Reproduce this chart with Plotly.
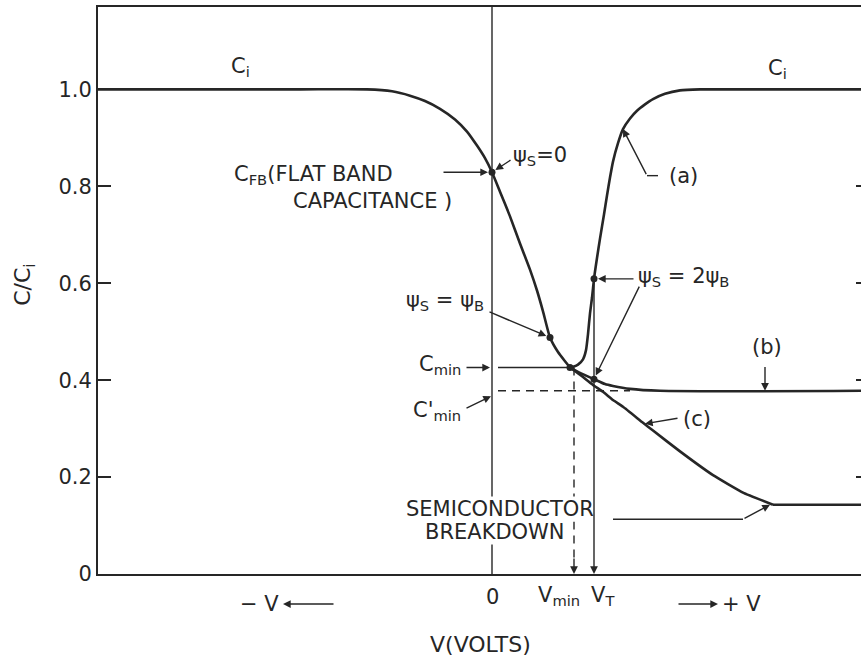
import plotly.graph_objects as go

# ---------------- data ----------------
# common curve (accumulation -> depletion), V in arbitrary volts, C/Ci
v_main = [-3.94, -1.92, -1.25, -1.00, -0.82, -0.67, -0.52, -0.37, -0.25, -0.15, -0.07,
          0.00, 0.08, 0.18, 0.28, 0.38, 0.45, 0.51, 0.58, 0.66, 0.73, 0.78]
c_main = [1.000, 1.000, 1.000, 0.996, 0.987, 0.976, 0.960, 0.938, 0.913, 0.884, 0.858,
          0.829, 0.789, 0.738, 0.682, 0.628, 0.585, 0.542, 0.488, 0.458, 0.439, 0.426]

# (a) low frequency
v_a = [0.78, 0.82, 0.86, 0.91, 0.94, 0.96, 0.98, 1.00, 1.02, 1.05, 1.08, 1.12, 1.15,
       1.18, 1.21, 1.26, 1.31, 1.38, 1.45, 1.53, 1.61, 1.73, 1.88, 2.08, 3.69]
c_a = [0.426, 0.428, 0.432, 0.443, 0.462, 0.495, 0.538, 0.570, 0.609, 0.652, 0.692,
       0.742, 0.781, 0.818, 0.851, 0.889, 0.918, 0.940, 0.956, 0.969, 0.980, 0.991,
       0.998, 1.000, 1.000]

# (b) high frequency
v_b = [0.78, 0.88, 1.02, 1.13, 1.21, 1.38, 1.68, 3.69]
c_b = [0.426, 0.415, 0.402, 0.392, 0.388, 0.382, 0.378, 0.378]

# (c) deep depletion, then flat after semiconductor breakdown
v_c = [0.78, 0.88, 1.01, 1.11, 1.21, 1.31, 1.51, 1.61, 1.88, 2.21, 2.51, 2.81]
c_c = [0.426, 0.411, 0.390, 0.376, 0.359, 0.345, 0.312, 0.296, 0.253, 0.204, 0.168, 0.143]
v_bd_flat = [2.81, 3.69]
c_bd_flat = [0.143, 0.143]

# characteristic points
V_FB, C_FB = 0.0, 0.829
V_B, C_B = 0.58, 0.488
V_T, C_2B_a, C_2B_b = 1.02, 0.609, 0.402
V_MIN, C_MIN = 0.82, 0.426
C_MIN_P = 0.378
V_BD, C_BD = 2.81, 0.143

y_tickvals = [0, 0.2, 0.4, 0.6, 0.8, 1.0]
y_ticktext = ["0", "0.2", "0.4", "0.6", "0.8", "1.0"]
mark_ticks = [0.2, 0.4, 0.6, 0.8]

# ---------------- styling ----------------
INK = "#262626"
FONT = "DejaVu Sans"
FS = 21
XR = [-3.94, 3.69]
YR = [0, 1.17]

fig = go.Figure()

curve = dict(color=INK, width=2.6)
fig.add_trace(go.Scatter(x=v_main, y=c_main, mode="lines", line=dict(**curve, shape="spline", smoothing=0.5)))
fig.add_trace(go.Scatter(x=v_a, y=c_a, mode="lines", line=dict(**curve, shape="spline", smoothing=0.5)))
fig.add_trace(go.Scatter(x=v_b, y=c_b, mode="lines", line=dict(**curve, shape="spline", smoothing=0.7), yaxis="y2"))
fig.add_trace(go.Scatter(x=v_c, y=c_c, mode="lines", line=dict(**curve, shape="spline", smoothing=0.4), yaxis="y3"))
fig.add_trace(go.Scatter(x=v_bd_flat, y=c_bd_flat, mode="lines", line=dict(**curve)))

# reference lines
fig.add_trace(go.Scatter(x=[0.06, V_MIN], y=[C_MIN, C_MIN], mode="lines", line=dict(color=INK, width=1.4)))
fig.add_trace(go.Scatter(x=[0.06, 1.38], y=[C_MIN_P, C_MIN_P], mode="lines",
                         line=dict(color=INK, width=1.4, dash="8px,6px")))
fig.add_trace(go.Scatter(x=[V_MIN, V_MIN], y=[C_MIN, 0.03], mode="lines",
                         line=dict(color=INK, width=1.4, dash="8px,6px")))
# breakdown leader (horizontal part)
fig.add_trace(go.Scatter(x=[1.21, 2.51], y=[0.113, 0.113], mode="lines", line=dict(color=INK, width=1.4)))
# (a) leader horizontal part
fig.add_trace(go.Scatter(x=[1.55, 1.66], y=[0.822, 0.822], mode="lines", line=dict(color=INK, width=1.4)))

# dots
fig.add_trace(go.Scatter(x=[V_FB, V_B, V_T, V_T, V_MIN - 0.04], y=[C_FB, C_B, C_2B_a, C_2B_b, C_MIN],
                         mode="markers", marker=dict(color=INK, size=7)))

fig.add_shape(type="line", xref="x", yref="paper", x0=0, x1=0, y0=0, y1=1,
              line=dict(color=INK, width=1.4), layer="below")


def arrow(x, y, ax, ay, standoff=0):
    return dict(x=x, y=y, ax=ax, ay=ay, xref="x", yref="y", axref="x", ayref="y", text="",
                showarrow=True, arrowhead=2, arrowsize=1.1, arrowwidth=1.4, arrowcolor=INK,
                standoff=standoff)


def label(text, x, y, xanchor="center", yanchor="middle", size=FS, bg=None, yref="y",
          xref="x", **kw):
    d = dict(text=text, x=x, y=y, xref=xref, yref=yref, xanchor=xanchor, yanchor=yanchor,
             showarrow=False, font=dict(family=FONT, size=size, color=INK), borderpad=0, **kw)
    if bg:
        d["bgcolor"] = bg
    return d


ann = [
    label("C<sub>i</sub>", -2.52, 1.047),
    label("C<sub>i</sub>", 2.85, 1.042),
    label("C<sub>FB</sub>(FLAT BAND", -2.59, 0.824, xanchor="left"),
    label("CAPACITANCE )", -2.00, 0.770, xanchor="left"),
    arrow(V_FB, C_FB, -0.50, C_FB, standoff=4),
    label("ψ<sub>S</sub>=0", 0.20, 0.862, xanchor="left"),
    arrow(V_FB, C_FB, 0.20, 0.856, standoff=4),
    label("ψ<sub>S</sub> = ψ<sub>B</sub>", -0.07, 0.563, xanchor="right"),
    arrow(V_B, C_B, -0.04, 0.542, standoff=4),
    label("C<sub>min</sub>", -0.30, 0.432, xanchor="right"),
    arrow(-0.02, C_MIN, -0.27, C_MIN),
    label("C'<sub>min</sub>", -0.30, 0.337, xanchor="right"),
    arrow(-0.01, 0.367, -0.27, 0.341),
    label("(a)", 1.91, 0.822),
    arrow(1.31, 0.918, 1.55, 0.822),
    label("ψ<sub>S</sub> = 2ψ<sub>B</sub>", 1.45, 0.613, xanchor="left"),
    arrow(V_T, C_2B_a, 1.43, C_2B_a, standoff=4),
    arrow(V_T, C_2B_b, 1.48, 0.596, standoff=4),
    label("(b)", 2.75, 0.469),
    arrow(2.73, C_MIN_P, 2.73, 0.430),
    label("(c)", 2.05, 0.320),
    arrow(1.53, 0.310, 1.87, 0.322),
    arrow(V_BD - 0.03, C_BD, 2.51, 0.113),
    label("SEMICONDUCTOR", 0.08, 0.134, bg="white"),
    label("BREAKDOWN", 0.03, 0.087, bg="white"),
    arrow(V_T, 0, V_T, C_2B_a),
    arrow(V_MIN, 0, V_MIN, 0.035),
    # x-axis texts
    label("0", 0.0, 0, yref="paper", yanchor="top", yshift=-10),
    label("V<sub>min</sub>", 0.67, 0, yref="paper", yanchor="top", yshift=-8),
    label("V<sub>T</sub>", 1.11, 0, yref="paper", yanchor="top", yshift=-8),
    label("− V", -2.33, -0.053, yref="paper"),
    dict(x=-2.09, y=-0.053, xref="x", yref="paper", ax=52, ay=0, text="", showarrow=True,
         arrowhead=2, arrowsize=1.1, arrowwidth=1.4, arrowcolor=INK),
    label("+ V", 2.49, -0.053, yref="paper"),
    dict(x=2.26, y=-0.053, xref="x", yref="paper", ax=-41, ay=0, text="", showarrow=True,
         arrowhead=2, arrowsize=1.1, arrowwidth=1.4, arrowcolor=INK),
    label("V(VOLTS)", -0.12, -0.125, yref="paper", size=22),
    label("C/C<sub>i</sub>", -0.0957, 0.51, xref="paper", yref="paper", textangle=-90, size=22),
]

axis_common = dict(showgrid=False, zeroline=False)
fig.update_layout(
    width=861, height=659, autosize=False,
    margin=dict(l=98, r=0, t=7, b=85),
    paper_bgcolor="white", plot_bgcolor="white", showlegend=False,
    xaxis=dict(range=XR, showline=True, linecolor=INK, linewidth=2, mirror=True,
               showticklabels=False, ticks="", **axis_common),
    yaxis=dict(range=YR, showline=True, linecolor=INK, linewidth=2, tickvals=y_tickvals,
               ticktext=y_ticktext, ticks="", tickfont=dict(family=FONT, size=FS, color=INK),
               **axis_common),
    yaxis2=dict(range=YR, overlaying="y", side="right", showline=False, tickvals=mark_ticks,
                ticks="inside", ticklen=5, tickwidth=2, tickcolor=INK, showticklabels=False,
                **axis_common),
    yaxis3=dict(range=YR, overlaying="y", side="left", showline=False, tickvals=mark_ticks,
                ticks="inside", ticklen=13, tickwidth=2, tickcolor=INK, showticklabels=False,
                **axis_common),
    annotations=ann,
)

fig.write_html("out.html", config={"displayModeBar": False, "staticPlot": True},
               post_script="document.body.style.margin='0';document.body.style.overflow='hidden';")
